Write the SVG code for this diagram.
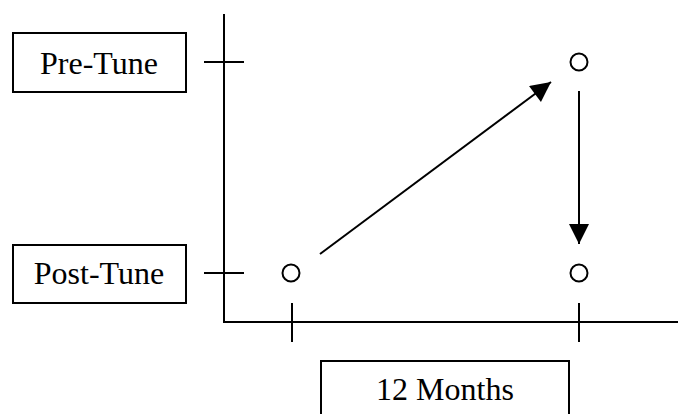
<svg xmlns="http://www.w3.org/2000/svg" width="678" height="414" viewBox="0 0 678 414">
  <style>
    .box { fill: #fff; stroke: #000; stroke-width: 2; }
    .lbl { font-family: "Liberation Serif", "Times New Roman", serif; font-size: 32px; fill: #000; text-anchor: middle; }
    .ax { stroke: #000; stroke-width: 2; fill: none; }
    .pt { fill: #fff; stroke: #000; stroke-width: 2; }
    .conn { stroke: #000; stroke-width: 2; fill: none; marker-end: url(#head); }
  </style>
  <defs>
    <marker id="head" viewBox="0 0 10 10" refX="10" refY="5" markerUnits="userSpaceOnUse" markerWidth="22" markerHeight="20" orient="auto">
      <path d="M0,0 L10,5 L0,10 Z" fill="#000"/>
    </marker>
  </defs>

  <!-- axes and ticks -->
  <g id="axes">
    <path class="ax" d="M224,14 V322 H678"/>
    <path class="ax" d="M204,62 H244 M204,273 H244 M292,303 V342 M579,303 V342"/>
  </g>

  <g id="pre-tune">
    <rect class="box" x="13" y="33" width="173" height="59"/>
    <text class="lbl" x="99" y="74">Pre-Tune</text>
  </g>

  <g id="post-tune">
    <rect class="box" x="13" y="245" width="173" height="58"/>
    <text class="lbl" x="99" y="284">Post-Tune</text>
  </g>

  <g id="months">
    <rect class="box" x="321" y="361" width="248" height="70"/>
    <text class="lbl" x="445" y="400">12 Months</text>
  </g>

  <g id="p-start"><circle class="pt" cx="291" cy="273" r="8.5"/></g>
  <g id="p-peak"><circle class="pt" cx="579" cy="62" r="8.5"/></g>
  <g id="p-end"><circle class="pt" cx="579" cy="273" r="8.5"/></g>

  <g id="connectors">
    <line class="conn" x1="320" y1="254" x2="551" y2="82"/>
    <line class="conn" x1="579" y1="91" x2="579" y2="244"/>
  </g>
</svg>
